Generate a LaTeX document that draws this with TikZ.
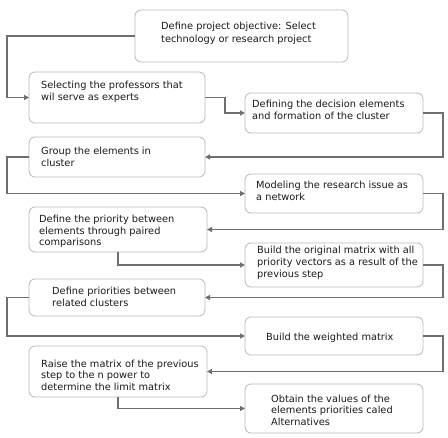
\documentclass[tikz,border=0pt]{standalone}
\usepackage{fontspec}
\setmainfont{DejaVu Sans}
\usetikzlibrary{arrows.meta}
\definecolor{conncol}{HTML}{6F6F6F}
\definecolor{boxcol}{HTML}{B8B8B8}
\definecolor{txtcol}{HTML}{1A1A1A}
\begin{document}
\begin{tikzpicture}[x=1pt,y=-1pt,
  box/.style={draw=boxcol, line width=0.8pt, rounded corners=6pt, inner sep=0pt, outer sep=0pt, anchor=north west},
  txt/.style={text=txtcol, font=\fontsize{9.8}{11.6}\selectfont, align=left, inner sep=0pt, anchor=base west},
  conn/.style={draw=conncol, line width=1.5pt, -{Triangle[length=5pt,width=5pt]}}]
\useasboundingbox (0,0) rectangle (448,438);
\coordinate (railL) at (7,0);
\coordinate (railR) at (443,0);
% boxes
\node[box, minimum width=213pt, minimum height=52pt] (b1) at (135,10) {};
\node[box, minimum width=176pt, minimum height=51pt] (b2) at (29,72) {};
\node[box, minimum width=178pt, minimum height=40pt] (b3) at (245,93) {};
\node[box, minimum width=176pt, minimum height=40pt] (b4) at (29,137) {};
\node[box, minimum width=178pt, minimum height=39pt] (b5) at (245,174) {};
\node[box, minimum width=178pt, minimum height=45pt] (b6) at (29,207) {};
\node[box, minimum width=178pt, minimum height=44pt] (b7) at (245,243) {};
\node[box, minimum width=176pt, minimum height=37pt] (b8) at (29,279) {};
\node[box, minimum width=178pt, minimum height=38pt] (b9) at (245,317) {};
\node[box, minimum width=178pt, minimum height=51pt] (b10) at (29,346) {};
\node[box, minimum width=178pt, minimum height=49pt] (b11) at (245,384) {};
% texts (anchored at the baseline of their last line)
\node[txt, font=\fontsize{9.8}{12.6}\selectfont] (t1) at (161,42.1) {Define project objective: Select\\technology or research project};
\node[txt] (t2) at (41,100.6) {Selecting the professors that\\wil serve as experts};
\node[txt] (t3) at (252,119.6) {Defining the decision elements\\and formation of the cluster};
\node[txt] (t4) at (41,166.6) {Group the elements in\\cluster};
\node[txt] (t5) at (256,200.6) {Modeling the research issue as\\a network};
\node[txt] (t6) at (39,245.9) {Define the priority between\\elements through paired\\comparisons};
\node[txt] (t7) at (257,277.2) {Build the original matrix with all\\priority vectors as a result of the\\previous step};
\node[txt] (t8) at (52,306.6) {Define priorities between\\related clusters};
\node[txt] (t9) at (266,341) {Build the weighted matrix};
\node[txt] (t10) at (41,390.5) {Raise the matrix of the previous\\step to the n power to\\determine the limit matrix};
\node[txt] (t11) at (271,425.5) {Obtain the values of the\\elements priorities caled\\Alternatives};
% connectors
\draw[conn] (b1.west) -- (b1.west -| railL) |- (b2.west);
\draw[conn] (b2.east) -- ++(20,0) |- (b3.west);
\draw[conn] (b3.east) -- (b3.east -| railR) |- (b4.east);
\draw[conn] (b4.west) -- (b4.west -| railL) |- (b5.west);
\draw[conn] (b5.east) -- (b5.east -| railR) |- (b6.east);
\draw[conn] (b6.south) |- (b7.west);
\draw[conn] (b7.east) -- (b7.east -| railR) |- (b8.east);
\draw[conn] (b8.west) -- (b8.west -| railL) |- (b9.west);
\draw[conn] (b9.east) -- (b9.east -| railR) |- (b10.east);
\draw[conn] (b10.south) |- (b11.west);
\end{tikzpicture}
\end{document}
